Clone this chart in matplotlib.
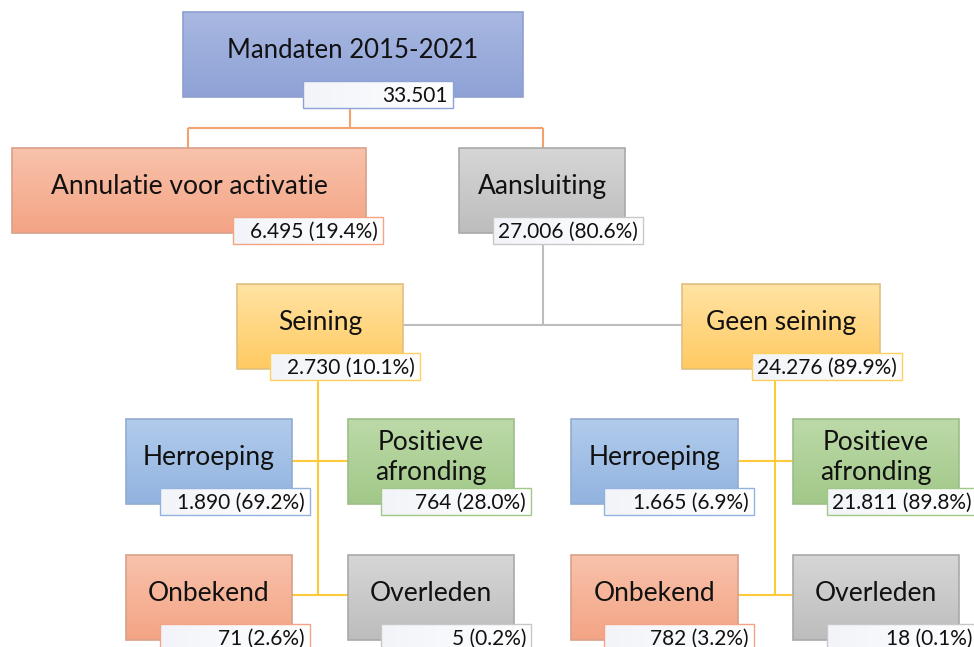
import numpy as np
import matplotlib as mpl
mpl.use('Agg')
import matplotlib.pyplot as plt
from matplotlib.patches import Rectangle
from matplotlib.colors import to_rgb

# node data
names = ["Mandaten 2015-2021", "Annulatie voor activatie", "Aansluiting",
         "Seining", "Geen seining",
         "Herroeping", "Positieve\nafronding", "Onbekend", "Overleden",
         "Herroeping", "Positieve\nafronding", "Onbekend", "Overleden"]
counts = ["33.501", "6.495", "27.006", "2.730", "24.276",
          "1.890", "764", "71", "5",
          "1.665", "21.811", "782", "18"]
pcts = [None, "19.4%", "80.6%", "10.1%", "89.9%",
        "69.2%", "28.0%", "2.6%", "0.2%",
        "6.9%", "89.8%", "3.2%", "0.1%"]

# colour themes: (top, bottom, edge)
blue_top = ("#a9b8e2", "#8ea2d6", "#8e9fcf")
salmon = ("#f8c2ab", "#f4a485", "#d9a08a")
grey = ("#d6d6d6", "#bdbdbd", "#a9a9a9")
yellow = ("#ffe3a3", "#ffca62", "#e0c080")
lblue = ("#b1cbeb", "#92b3e0", "#92acd0")
green = ("#bcdaa8", "#a1c888", "#9ebd8a")
themes = [blue_top, salmon, grey, yellow, yellow,
          lblue, green, salmon, grey, lblue, green, salmon, grey]
label_edges = ["#8ea2d6", "#f4a485", "#c8c8c8", "#ffd060", "#ffd060",
               "#92b3e0", "#a1c888", "#f4a485", "#c8c8c8",
               "#92b3e0", "#a1c888", "#f4a485", "#c8c8c8"]

# layout in pixels: box (x0, y0, x1, y1), label box x0, font size
boxes = [(183, 12, 523, 97), (12, 148, 366, 233), (459, 148, 625, 233),
         (237, 284, 403, 369), (682, 284, 880, 369),
         (126, 419, 292, 504), (348, 419, 514, 504),
         (126, 555, 292, 640), (348, 555, 514, 640),
         (571, 419, 738, 504), (793, 419, 959, 504),
         (571, 555, 738, 640), (793, 555, 959, 640)]
label_x = [303, 233, 493, 270, 752, 160, 381, 160, 381, 604, 827, 604, 827]
label_w = [150, 150, 150, 150, 150, 150, 150, 150, 150, 150, 150, 150, 150]
fsizes = [18.5, 19, 19, 19, 19, 19, 19, 19, 19, 19, 19, 19, 19]

plt.rcParams['font.family'] = ['Lato', 'DejaVu Sans']

fig = plt.figure(figsize=(9.74, 6.47), dpi=100)
ax = fig.add_axes([0, 0, 1, 1])
ax.set_xlim(0, 974)
ax.set_ylim(647, 0)
ax.axis('off')


def grad(c_top, c_bot, n=64):
    a = np.array(to_rgb(c_top))
    b = np.array(to_rgb(c_bot))
    t = np.linspace(0, 1, n)[:, None]
    return (a * (1 - t) + b * t)[:, None, :]


def line(xs, ys, color):
    ax.plot(xs, ys, color=color, lw=1.5, zorder=1, solid_capstyle='butt')


# connectors
orange = "#f4a170"
line([350, 350], [108, 128], orange)
line([188, 543], [128, 128], orange)
line([188, 188], [128, 148], orange)
line([543, 543], [128, 148], orange)
greyl = "#bdbdbd"
line([543, 543], [244, 325], greyl)
line([403, 682], [325, 325], greyl)
yel = "#ffc93c"
line([318, 318], [380, 595], yel)
line([292, 348], [461, 461], yel)
line([292, 348], [595, 595], yel)
line([775, 775], [380, 595], yel)
line([738, 793], [461, 461], yel)
line([738, 793], [595, 595], yel)

for i, (x0, y0, x1, y1) in enumerate(boxes):
    top, bot, edge = themes[i]
    ax.imshow(grad(top, bot), extent=(x0, x1, y1, y0), aspect='auto',
              zorder=2, interpolation='bilinear')
    ax.add_patch(Rectangle((x0, y0), x1 - x0, y1 - y0, fill=False,
                           ec=edge, lw=1.2, zorder=3))
    cy = (y0 + y1) / 2 - 4
    ax.text((x0 + x1) / 2, cy, names[i], ha='center', va='center',
            fontsize=fsizes[i], color='#111111', zorder=4, linespacing=1.25)

    # value label
    lx0 = label_x[i]
    lx1 = lx0 + label_w[i]
    ly0 = y1 - 16
    ly1 = y1 + 11
    ax.imshow(grad("#f2f4f9", "#ffffff").transpose(1, 0, 2),
              extent=(lx0, lx1, ly1, ly0), aspect='auto', zorder=5,
              interpolation='bilinear')
    ax.add_patch(Rectangle((lx0, ly0), lx1 - lx0, ly1 - ly0, fill=False,
                           ec=label_edges[i], lw=1.0, zorder=6))
    txt = counts[i] if pcts[i] is None else f"{counts[i]} ({pcts[i]})"
    ax.text(lx1 - 5, (ly0 + ly1) / 2 + 1, txt, ha='right', va='center',
            fontsize=15, color='#111111', zorder=7)

ax.set_xlim(0, 974)
ax.set_ylim(647, 0)
fig.savefig("out.png", dpi=100)
